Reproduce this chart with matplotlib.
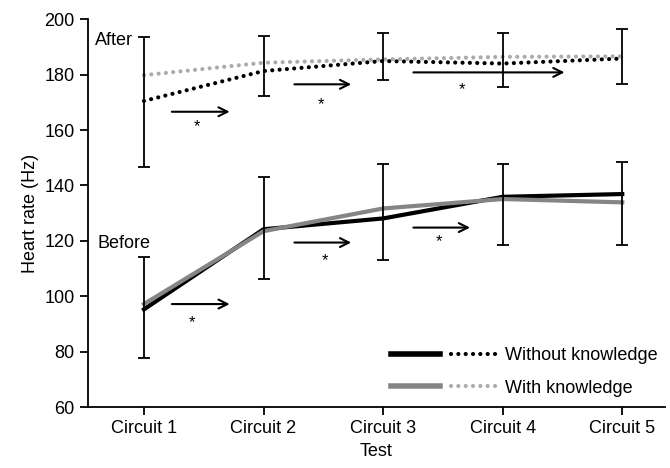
import matplotlib.pyplot as plt
from matplotlib.legend_handler import HandlerTuple
from matplotlib.lines import Line2D

plt.rcParams["font.family"] = ["Liberation Sans", "DejaVu Sans"]
plt.rcParams["font.size"] = 13

# Data
circuits = ["Circuit 1", "Circuit 2", "Circuit 3", "Circuit 4", "Circuit 5"]
x = [1, 2, 3, 4, 5]

before_without = [95.3, 124.2, 128.1, 135.9, 136.9]
before_with = [97.2, 123.5, 131.7, 135.1, 133.9]
after_without = [170.5, 181.3, 184.9, 184.0, 185.8]
after_with = [179.8, 184.3, 185.5, 186.4, 186.6]

# error bar extents (low, high)
before_err_lo = [77.8, 106.4, 113.0, 118.5, 118.5]
before_err_hi = [114.2, 142.9, 147.7, 147.7, 148.5]
after_err_lo = [146.7, 172.3, 178.0, 175.4, 176.5]
after_err_hi = [193.7, 194.0, 194.9, 194.9, 196.6]

# significance arrows: (x start, x end, y), star: (x, y)
after_arrows = [(1.21, 1.74, 166.6), (2.235, 2.756, 176.5), (3.23, 4.54, 180.8)]
after_stars = [(1.445, 161.2), (2.48, 169.3), (3.66, 174.6)]
before_arrows = [(1.21, 1.74, 97.2), (2.235, 2.756, 119.4), (3.23, 3.75, 124.8)]
before_stars = [(1.40, 90.6), (2.51, 113.0), (3.47, 119.6)]

BLACK = "#000000"
GRAY = "#858585"
LIGHT = "#ababab"
dots = (0, (0.01, 1.75))


def draw_err(ax, lo, hi):
    mid = [(a + b) / 2 for a, b in zip(lo, hi)]
    half = [(b - a) / 2 for a, b in zip(lo, hi)]
    ax.errorbar(x, mid, yerr=half, fmt="none", ecolor="black",
                elinewidth=1.3, capsize=4, capthick=1.3, zorder=4)


fig = plt.figure(figsize=(6.7, 4.68), dpi=100)
ax = fig.add_axes([0.131, 0.130, 0.862, 0.829])

draw_err(ax, before_err_lo, before_err_hi)
draw_err(ax, after_err_lo, after_err_hi)

l1, = ax.plot(x, before_without, color=BLACK, lw=3, zorder=3)
l2, = ax.plot(x, before_with, color=GRAY, lw=3, zorder=3)
d1, = ax.plot(x, after_without, color=BLACK, lw=3, linestyle=dots,
              dash_capstyle="round", zorder=3)
d2, = ax.plot(x, after_with, color=LIGHT, lw=3, linestyle=dots,
              dash_capstyle="round", zorder=2)

for x0, x1, y in after_arrows + before_arrows:
    ax.annotate("", xy=(x1, y), xytext=(x0, y),
                arrowprops=dict(arrowstyle="->", color="black", lw=1.5,
                                mutation_scale=16))
for sx, sy in after_stars + before_stars:
    ax.text(sx, sy, "*", ha="center", va="center", fontsize=12)

ax.text(0.59, 192.4, "After", ha="left", va="center")
ax.text(0.61, 119.2, "Before", ha="left", va="center")

h1 = Line2D([], [], color=BLACK, lw=4)
h2 = Line2D([], [], color=BLACK, lw=3, linestyle=dots, dash_capstyle="round")
h3 = Line2D([], [], color=GRAY, lw=4)
h4 = Line2D([], [], color=LIGHT, lw=3, linestyle=dots, dash_capstyle="round")
ax.legend([(h1, h2), (h3, h4)], ["Without knowledge", "With knowledge"],
          handler_map={tuple: HandlerTuple(ndivide=None, pad=0.6)},
          handlelength=6.0, handletextpad=0.3, labelspacing=0.85,
          frameon=False, loc="lower right", bbox_to_anchor=(1.015, -0.015))

ax.set_xlim(0.53, 5.36)
ax.set_ylim(60, 200)
ax.set_xticks(x)
ax.set_xticklabels(circuits)
ax.set_yticks(range(60, 201, 20))
ax.set_xlabel("Test")
ax.set_ylabel("Heart rate (Hz)")
ax.spines["top"].set_visible(False)
ax.spines["right"].set_visible(False)
for s in ("left", "bottom"):
    ax.spines[s].set_linewidth(1.3)
ax.tick_params(direction="out", length=6, width=1.3)

fig.savefig("out.png")
